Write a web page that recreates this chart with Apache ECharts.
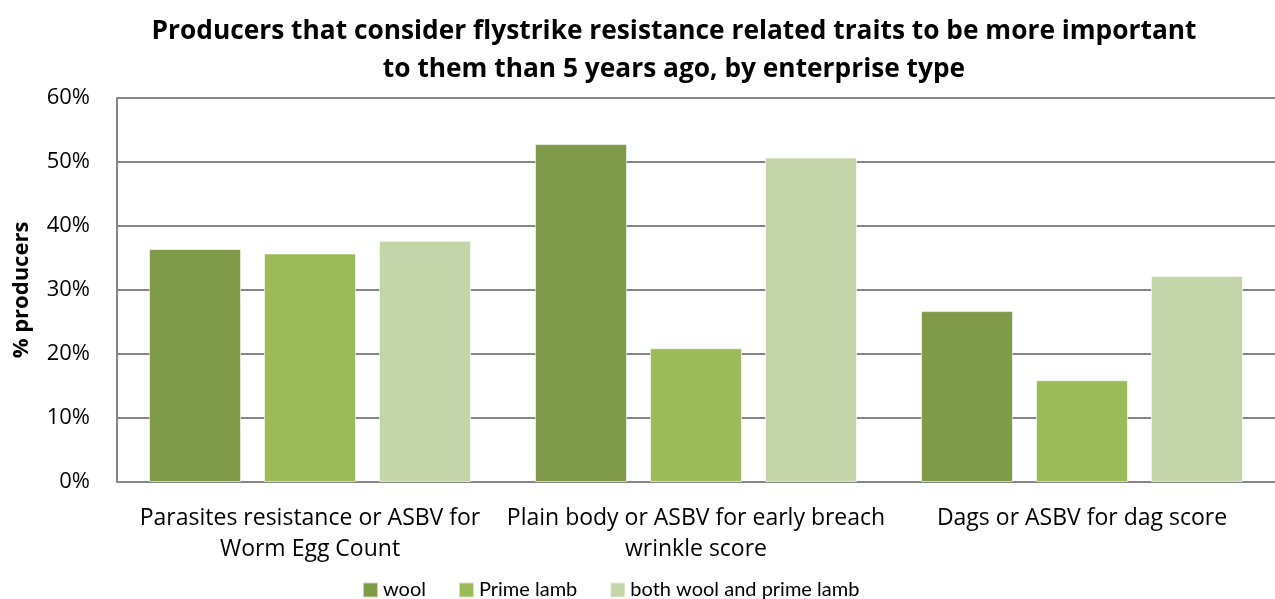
<!DOCTYPE html>
<html>
<head>
<meta charset="utf-8">
<script src="https://cdn.jsdelivr.net/npm/echarts@6/dist/echarts.min.js"></script>
<style>
  html, body { margin: 0; padding: 0; background: #fff; }
  #chart { width: 1275px; height: 599px; }
</style>
</head>
<body>
<div id="chart"></div>
<script>
  // Categories and values (percent of producers)
  var categories = [
    'Parasites resistance or ASBV for\nWorm Egg Count',
    'Plain body or ASBV for early breach\nwrinkle score',
    'Dags or ASBV for dag score'
  ];
  var seriesNames = ['wool', 'Prime lamb', 'both wool and prime lamb'];
  var wool = [36.4, 52.8, 26.7];
  var primeLamb = [35.7, 20.9, 15.9];
  var bothWoolPrime = [37.7, 50.7, 32.2];
  var yTicks = [0, 10, 20, 30, 40, 50, 60];

  var COLORS = ['#7f9a48', '#9bbb59', '#c4d5aa'];
  var FONT = 'Open Sans';

  var chart = echarts.init(document.getElementById('chart'));

  function bar(name, data, color) {
    return {
      name: name,
      type: 'bar',
      data: data,
      barGap: '25%',
      barCategoryGap: '16.6%',
      itemStyle: { color: color, borderColor: 'rgba(255,255,255,0.6)', borderWidth: 1 }
    };
  }

  chart.setOption({
    backgroundColor: '#fff',
    animation: false,
    title: {
      text: 'Producers that consider flystrike resistance related traits to be more important\nto them than 5 years ago, by enterprise type',
      left: 669,
      textAlign: 'center',
      top: 8,
      textStyle: { fontFamily: FONT, fontWeight: 'bold', fontSize: 26.3, lineHeight: 38, color: '#000' }
    },
    legend: {
      top: 575,
      left: 357,
      itemWidth: 15,
      itemHeight: 15,
      itemGap: 32,
      icon: 'rect',
      textStyle: { fontFamily: 'Lato', fontSize: 20, color: '#000' },
      data: seriesNames
    },
    grid: { left: 117, right: 0, top: 98, bottom: 117, containLabel: false },
    xAxis: {
      type: 'category',
      data: categories,
      axisLine: { lineStyle: { color: '#868686', width: 2 } },
      axisTick: { show: false },
      axisLabel: { interval: 0, fontFamily: FONT, fontSize: 23, color: '#000', lineHeight: 31, margin: 21 }
    },
    yAxis: {
      type: 'value',
      min: yTicks[0],
      max: yTicks[yTicks.length - 1],
      interval: 10,
      name: '% producers',
      nameLocation: 'middle',
      nameGap: 84,
      nameTextStyle: { fontFamily: FONT, fontWeight: 'bold', fontSize: 22, color: '#000' },
      axisLine: { show: true, lineStyle: { color: '#868686', width: 2 } },
      axisTick: { show: false },
      axisLabel: { fontFamily: FONT, fontSize: 22, color: '#000', margin: 27, formatter: '{value}%' },
      splitLine: { lineStyle: { color: '#868686', width: 2 } }
    },
    series: [
      bar(seriesNames[0], wool, COLORS[0]),
      bar(seriesNames[1], primeLamb, COLORS[1]),
      bar(seriesNames[2], bothWoolPrime, COLORS[2])
    ]
  });
</script>
</body>
</html>
